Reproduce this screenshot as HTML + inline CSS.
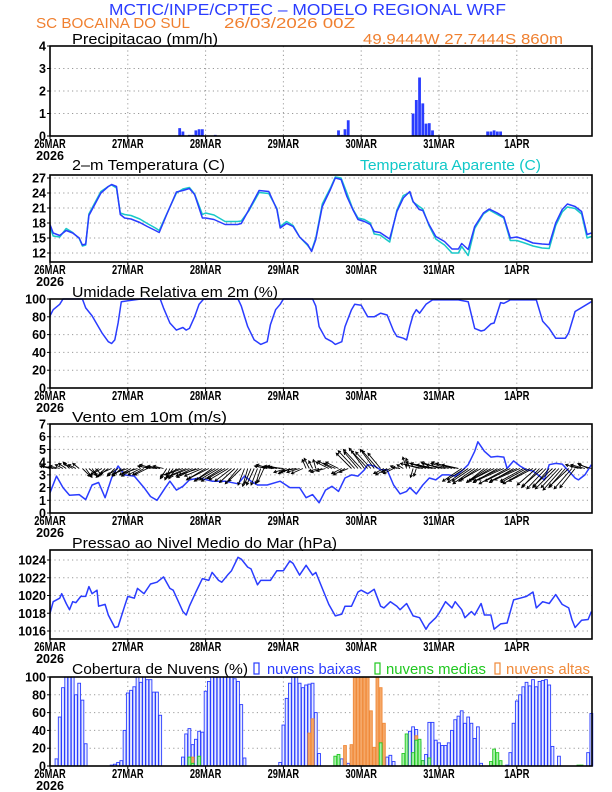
<!DOCTYPE html>
<html><head><meta charset="utf-8"><style>
html,body{margin:0;padding:0;background:#fff;}
svg{display:block;font-family:"Liberation Sans",sans-serif;}
</style></head><body>
<svg id="chart" width="612" height="792" viewBox="0 0 612 792"></svg>
<script>
// ---- data ----
const dayLabels = ["26MAR","27MAR","28MAR","29MAR","30MAR","31MAR","1APR"];
const precipHours = [17,18,25,26,40,41,43,44,45,46,47,51,57,60,62,85,86,89,90,91,92,112,113,114,115,116,117,118,135,136,137,138,139,145,150,155,160];
const precipVals  = [0.02,0.02,0.02,0.02,0.35,0.2,0.05,0.05,0.25,0.3,0.3,0.05,0.02,0.02,0.02,0.02,0.02,0.25,0.05,0.3,0.7,1.0,1.6,2.6,1.45,0.55,0.57,0.25,0.2,0.2,0.25,0.2,0.2,0.02,0.02,0.02,0.02];
const precipTicks = [0,1,2,3,4];

const tempHours = [0,1,3,5,7,9,10,11,12,15.7,18,19,20.5,21.7,23,25,27.7,30,32.5,33.7,36,39,41,43,44.6,47,48,50.6,54,57.8,59,61.4,64.5,67.5,70,71,73,75,77,79.5,80.7,82,84,86.5,88,89.8,91.6,93.4,95,97,98.8,100,101.8,104.8,107,109,111,112,113.9,115,116.9,119,121.7,124,126,127,129,131,133.7,135.5,138,140,142,144,146.4,149,151.8,154,156,158,159.6,162,164,165.7,167];
const tempVals = [17.7,16,15.5,16.5,16,15,13.6,13.8,19.5,24,25.3,25.7,25.3,19.7,19,18.8,18.1,17.3,16.5,16.1,19.7,24.2,24.5,24.9,23.7,19,19,18.7,17.7,17.7,17.9,20.7,24.5,24.3,20.7,17,17.9,17.3,15.2,13.7,12.3,14.7,21.3,24.7,27,26.7,23.3,20.7,18.7,18.3,17.7,16.3,16.1,14.8,20.3,23,24.3,22.3,20.7,20.5,17.7,15.3,14.3,12.8,12.8,13.9,12.7,17.3,20,20.8,20,19.2,15,15.2,14.7,14,13.8,13.7,18,20.7,21.8,21.3,20.3,15.7,16];
const apparentVals = [17.2,15.4,15.2,16.9,16.1,14.9,13.4,13.6,19.8,24.3,25.3,25.6,25,20,19.7,19.5,18.8,17.9,17,16.5,19.8,24,24.8,25.1,23.8,19.7,20,19.6,18.3,18.3,18.4,20.5,24.1,23.9,20.9,17.3,18.3,17.5,15.2,13.5,12.5,15,21.8,25,27.2,27,24,20.8,19,18.7,18,15.8,15.6,14.2,20.6,23.5,24.1,22.2,21.3,20.8,17.5,14.8,13.6,12,12,13.3,11.5,16.9,19.8,20.6,19.7,19,14.5,14.5,14,13.4,13,12.9,17.5,20.2,21.2,20.9,19.8,15,15.3];
const tempTicks = [12,15,18,21,24,27];

const rhHours = [0,1,3,4,10,11,13,16,18,19,20,21,22,26,28,34,35,37,39,41,42,43,44.6,46,47.4,58,59,61,63,65,67,68,69.6,71,72,81,82,83,85,87,88,90,91,93,94,96,98,100,102,104,106,107,109,110,111,112,113,114,116,118,122,126,129,131,133,134,136,137,139,140,142,150,152,154,156,159,160,162,167];
const rhVals = [81,88,94,100,100,90,81,62,52,50,54,73,97,99,100,100,90,73,65,68,65,67,80,94,100,100,92,69,54,49,52,71,88,94,100,100,92,69,56,52,49,52,69,88,94,93,80,80,84,82,64,58,56,54,69,82,88,84,94,99,99,99,97,67,64,65,72,73,96,95,99,99,75,67,56,56,62,86,97];
const rhTicks = [0,20,40,60,80,100];

const windHours = [0,2,4,6,9,11,13,15,17,19,21,23,26,29,31,33,35.6,37,39,41,43,46,50,54,58,60,62,64,67,71,74,77,79,81,83,85,87,89,91,93,95,97,98,100,102,104,106,108,110,111,113,115,117,119,121,123,125,127,129,131,132,134,136,138,140,141,143,145,147,149,151,152.5,154,156,158,160,162,163,165,167];
const windSpeed = [1.6,2.9,2,1.4,1.45,1.05,2.2,2.4,1.2,2.75,3.7,3,2.9,2,1.3,1,2,2.5,1.8,2.1,2.6,2.75,2.5,2.5,2.3,2.9,2.5,2.2,2.2,2.5,2,2,1.2,1.45,0.8,1.8,2.1,1.7,2.75,3,2.9,3.4,3.8,3.7,3.4,3.4,2.2,1.5,1.7,2,1.5,2.2,2.75,2.6,3,3,2.9,3.3,3.8,4.85,5.6,4.85,4.4,4.45,4.4,3.5,4.1,3.7,3.4,3.3,2.9,2.6,3.8,3.9,3.85,3.3,2.75,2.6,3,3.8];
const windU = [-0.8,-0.9,-0.7,-0.8,-0.6,-0.6,-0.5,-0.7,-0.6,-0.5,0.6,0.5,0.6,0.4,0.5,-0.8,-0.9,-0.7,-0.8,-0.9,-0.6,-0.8,-0.7,-1,-1.1,-0.9,-1,-1.2,-1,-0.9,-1,-1,-1.1,-0.9,-1,-0.8,-0.5,-0.4,-0.5,-0.6,-1.5,-1.4,-1.6,-1.5,-1.3,-1.5,-1.6,-1.4,-1.5,-1.6,-1.4,-1.5,-1.5,-1.6,-1.4,-1.5,-1.3,-1.2,-1,-1,-0.5,-0.4,-0.5,-0.6,-0.5,-0.4,-0.5,-1,-1.1,-0.9,-1,-1,-1.1,-1,-0.9,-1,-1.1,-1,-0.9,-0.3,-0.4,-0.3,-0.2,-0.8,-0.9,-0.7,-1,-1.1,-0.9,-1,-0.8,-0.9,-0.7,-1.2,-1.3,-1.1,-1.4,-1.2,-1.3,-1.2,-1.1,-1.2,-1,-0.8,-0.9,-0.7,-0.8,-0.5,-0.6,-0.5,-0.3,-0.3,-0.2,-0.2,-1.5,-1.4,-1.6,-1.5,-1.7,-1.5,-1.4,-1.6,-1.5,-1.4,-1.6,-1.5,-1.3,-1.5,-1.4,-1.6,-1.5,-1.7,-1.5,-1.6,-1.4,-1.5,-1.5,-2,-1.9,-2.1,-2,-2.2,-2,-1.9,-2.1,-2,-1.8,-2,-2.1,-1.9,-1.5,-1.4,-1.6,-1.5,-1.3,-1.5,-1.6,-1.4,-1.5,-1.3,-1.5,-1.4,-1.2,-1,-0.9,-1.1,-0.8,-1];
const windV = [0.2,0.2,0.1,0.2,0.3,0.4,0.5,0.4,0.3,0.4,-0.6,-0.7,-0.5,-0.6,-0.5,-0.6,-0.5,-0.7,-0.6,-0.4,-0.6,-0.5,-0.6,-0.5,-0.4,-0.5,-0.6,-0.4,-0.5,-0.5,-0.5,0.2,0.3,0.1,0.2,0.2,-0.8,-0.9,-0.7,-0.8,-0.6,-0.5,-0.7,-0.6,-0.6,-0.7,-0.5,-0.6,-0.9,-0.8,-1,-0.9,-0.9,-1,-0.8,-0.9,-1,-1.1,-1.2,-1,-1.3,-1.4,-1.2,-1.3,-1.3,-1.2,-1.1,0.2,0.3,0.1,0.2,0.2,0.1,-0.3,-0.4,-0.3,-0.2,-0.3,-0.4,0.7,0.8,0.6,0.7,-0.2,-0.3,-0.2,0.5,0.6,0.4,0.5,-0.4,-0.5,-0.3,1.2,1.4,1.3,1.5,1.6,1.4,1.3,1.5,1.4,1.2,-0.4,-0.5,-0.3,-0.4,0.2,0.1,0.3,0.9,0.8,-0.7,-0.6,0.4,0.3,0.5,0.4,0.4,0.3,0.5,0.4,0.3,0.4,0.5,0.4,0.3,-1,-0.9,-1.1,-1,-1.2,-1,-0.9,-1.1,-1,-0.9,-1,-1.1,-1,-0.9,-1.2,-1,-1.1,-1,-0.9,-1,-1.1,-1.2,-1,-1.3,-1.5,-1.4,-1.6,-1.5,-1.4,-1.6,-1.5,-1.7,-1.5,-1.4,-1.6,-1.5,0.3,0.2,0.3,0.4,0.3];
const windTicks = [0,1,2,3,4,5,6,7];

const presHours = [0,1,3,3.6,5,6,7,8,9.5,11,12,13,14.5,15,17,18,20,21,23,24,26,27,29,31,33,35,37,38,41,42,43,45,47,49,50,52,53,55,56,58,59,61,62,64,65,68,70,72,74,75,77,79,81,82,84,86,88,90,91,93,95,96,98,100,102,103,105,107,108,110,112,114,116,117,119,120,122,124,125,127,128,130,131,133,134,136,137,139,141,143,145,147,149,150,152,154,156,158,160,161,162,164,166,167];
const presVals = [1018,1019.3,1019.7,1020.2,1019.1,1018.4,1019.3,1019.2,1019.9,1019.9,1021,1020.2,1020.6,1018.8,1019,1017.8,1016.4,1016.5,1018.8,1019.9,1019.7,1020.8,1020.2,1021.3,1021.5,1022.1,1020.8,1020.6,1018.2,1017.8,1018.8,1020.4,1021.9,1021.7,1022.6,1021.7,1021.5,1022.4,1022.8,1024.3,1024.1,1023.2,1023,1021.2,1021.7,1021.7,1022.8,1022.8,1023.9,1023.6,1022.3,1023.4,1022.3,1022.6,1020.8,1019,1017.7,1017.9,1018.8,1018.8,1020.4,1020.6,1020.2,1020.7,1018.8,1018.6,1019.3,1018.8,1018.4,1019.1,1017.7,1017.5,1016.2,1016.8,1017.5,1018,1019.3,1018.6,1019.3,1018.4,1017.5,1018.2,1017.8,1019.1,1017.8,1017.8,1016.2,1016.8,1016.9,1019.5,1019.7,1019.9,1020.4,1018.6,1019.3,1019.1,1020.1,1019,1018.6,1017.3,1016.4,1017.2,1017.3,1018.2];
const presTicks = [1016,1018,1020,1022,1024];

const lowHours = [2,3,4,5,6,7,8,9,10,11,19,20,21,22,23,24,25,26,27,28,29,30,31,32,33,34,41,42,43,44,45,46,47,48,49,50,51,52,53,54,55,56,57,58,59,60,71,72,73,74,75,76,77,78,79,80,81,82,83,89,90,91,92,102,103,104,105,106,110,111,112,113,114,115,116,117,118,119,120,121,122,123,124,125,126,127,128,129,130,131,132,133,141,142,143,144,145,146,147,148,149,150,151,152,153,154,155,157,166,167];
const lowVals = [8,55,88,100,100,100,80,93,74,25,1,2,4,6,40,82,85,89,100,94,100,97,97,83,83,57,10,36,42,24,30,39,38,84,95,100,100,100,100,100,100,100,98,95,69,9,4,46,76,93,100,100,93,88,91,92,93,60,14,5,8,5,3,4,9,10,12,5,9,39,44,41,27,6,13,49,49,29,26,23,23,26,40,52,56,62,48,55,48,31,44,3,1,15,48,73,80,89,94,90,97,89,95,96,97,91,22,11,15,59];
const midHours = [43,44,46,88,89,102,109,110,112,113,114,115,117,136,137,138,139,163,164];
const midVals = [10,3,11,11,13,26,14,36,15,29,30,6,9,5,19,15,6,1,1];
const highHours = [44,80,81,91,93,94,95,96,97,98,99,100,101,102,103,113];
const highVals = [10,37,53,23,24,100,100,100,100,100,62,21,100,88,48,34];
const cloudTicks = [0,20,40,60,80,100];

// ---- layout ----
const NS = "http://www.w3.org/2000/svg";
const svg = document.getElementById("chart");
const X0 = 50, PXH = 77.8/24, XR = 592;
function xh(h){ return X0 + h*PXH; }
function el(tag, attrs, parent){ const e=document.createElementNS(NS,tag); for(const k in attrs) e.setAttribute(k,attrs[k]); (parent||svg).appendChild(e); return e; }
function txt(s, attrs, parent){ const t=el("text",attrs,parent); t.textContent=s; return t; }
function mkScale(vTop, yTop, vBot, yBot){ return v => yTop + (v - vTop)*(yBot-yTop)/(vBot-vTop); }

// header
let t;
t = txt("MCTIC/INPE/CPTEC \u2013 MODELO REGIONAL WRF",{x:109,y:15,"font-size":16,fill:"#2a3cff",textLength:397,lengthAdjust:"spacingAndGlyphs"});


t = txt("SC BOCAINA DO SUL",{x:36,y:28,"font-size":15,fill:"#f08030",textLength:154,lengthAdjust:"spacingAndGlyphs"});


t = txt("26/03/2026 00Z",{x:224,y:28,"font-size":15,fill:"#f08030",textLength:131,lengthAdjust:"spacingAndGlyphs"});


t = txt("49.9444W 27.7444S 860m",{x:363,y:44,"font-size":15,fill:"#f08030",textLength:200,lengthAdjust:"spacingAndGlyphs"});



function panel(name, title, titleY, titleW, yTop, yBot, ys, ticks, fmt){
  const g = el("g",{});
  
  
  ticks.forEach(v=>{
    const y = ys(v);
    const gl = el("line",{x1:X0,x2:XR,y1:y,y2:y,stroke:"#999","stroke-width":1,"stroke-dasharray":"1.2,3.2"},g);
    
    
    const tl = txt(fmt(v),{x:X0-4,y:y+4.5,"font-size":12.5,"font-weight":"bold","text-anchor":"end",fill:"#000"},g);
    
    
    const tk = el("line",{x1:X0-3,x2:X0,y1:y,y2:y,stroke:"#000"},g);
    
    
  });
  dayLabels.forEach((d,i)=>{
    const x = xh(i*24);
    if(i>0){
      const gl = el("line",{x1:x,x2:x,y1:yTop,y2:yBot,stroke:"#999","stroke-width":1,"stroke-dasharray":"1.2,3.2"},g);
      
      
    }
    const tk = el("line",{x1:x,x2:x,y1:yBot,y2:yBot+3,stroke:"#000"},g);
    
    
    const dl = txt(d,{x:x,y:yBot+12,"font-size":12.5,"font-weight":"bold","text-anchor":"middle",fill:"#000",textLength:d.length*6.3,lengthAdjust:"spacingAndGlyphs"},g);
    
    
  });
  const yr = txt("2026",{x:X0,y:yBot+24,"font-size":12.5,"font-weight":"bold","text-anchor":"middle",fill:"#000"},g);
  
  
  const tt = txt(title,{x:72,y:titleY,"font-size":15,fill:"#000",textLength:titleW,lengthAdjust:"spacingAndGlyphs"},g);
  
  
  const plot = el("g",{},g);
  
  
  const frame = el("rect",{x:X0,y:yTop,width:XR-X0,height:yBot-yTop,fill:"none",stroke:"#000","stroke-width":1.6},g);
  
  
  return plot;
}
function line(parent, hours, vals, ys, color, name){
  const d = hours.map((h,i)=>(i?"L":"M")+xh(h).toFixed(1)+","+ys(vals[i]).toFixed(1)).join("");
  const p = el("path",{d:d,fill:"none",stroke:color,"stroke-width":1.5,"stroke-linejoin":"round"},parent);
  
  
  return p;
}

// Panel 1: precipitation
const ysP = mkScale(4,46,0,136);
const p1 = panel("precipitation","Precipitacao (mm/h)",44,146,46,136,ysP,precipTicks,v=>String(v));
precipHours.forEach((h,i)=>{
  const y = ysP(precipVals[i]);
  const r = el("rect",{x:xh(h)-1.4,y:y,width:2.8,height:Math.max(136-y,0.8),fill:"#2a3cff"},p1);
  
  
});

// Panel 2: temperature
const ysT = mkScale(27,178,12,253);
const p2 = panel("temperature","2\u2013m Temperatura (C)",170,153,175,262,ysT,tempTicks,v=>String(v));
t = txt("Temperatura Aparente (C)",{x:360,y:170,"font-size":15,fill:"#10c8c8",textLength:181,lengthAdjust:"spacingAndGlyphs"});


line(p2,tempHours,apparentVals,ysT,"#18c8c8","apparent-temperature-line");
line(p2,tempHours,tempVals,ysT,"#2a3cff","temperature-line");

// Panel 3: humidity
const ysH = mkScale(100,299,0,388);
const p3 = panel("humidity","Umidade Relativa em 2m (%)",297,206,299,388,ysH,rhTicks,v=>String(v));
line(p3,rhHours,rhVals,ysH,"#2a3cff","humidity-line");

// Panel 4: wind
const ysW = mkScale(7,424,0,513);
const p4 = panel("wind","Vento em 10m (m/s)",422,155,424,513,ysW,windTicks,v=>String(v));
line(p4,windHours,windSpeed,ysW,"#2a3cff","wind-speed-line");
const wscale = (513-424)/7;
windU.forEach((u,h)=>{
  const v = windV[h];
  const x1 = xh(h), y1 = ysW(3.5);
  const x2 = x1 + u*wscale, y2 = y1 - v*wscale;
  const ang = Math.atan2(y2-y1,x2-x1);
  const hl = 3;
  const d = `M${x1.toFixed(1)},${y1.toFixed(1)}L${x2.toFixed(1)},${y2.toFixed(1)}M${(x2-hl*Math.cos(ang-0.5)).toFixed(1)},${(y2-hl*Math.sin(ang-0.5)).toFixed(1)}L${x2.toFixed(1)},${y2.toFixed(1)}L${(x2-hl*Math.cos(ang+0.5)).toFixed(1)},${(y2-hl*Math.sin(ang+0.5)).toFixed(1)}`;
  const a = el("path",{d:d,stroke:"#000","stroke-width":0.9,fill:"none"},p4);
  
  
});

// Panel 5: pressure
const ysPr = mkScale(1024,560,1016,631);
const p5 = panel("pressure","Pressao ao Nivel Medio do Mar (hPa)",548,265,550,639,ysPr,presTicks,v=>String(v));
line(p5,presHours,presVals,ysPr,"#2a3cff","pressure-line");

// Panel 6: clouds
const ysC = mkScale(100,677,0,766);
const p6 = panel("clouds","Cobertura de Nuvens (%)",674,176,677,766,ysC,cloudTicks,v=>String(v));
function bars(hours, vals, stroke, fill, name){
  hours.forEach((h,i)=>{
    const y = ysC(vals[i]);
    const r = el("rect",{x:xh(h)-1.4,y:y,width:2.8,height:Math.max(766-y,0.5),fill:fill,stroke:stroke,"stroke-width":0.9},p6);
    
    
  });
}
bars(lowHours,lowVals,"#2a3cff","#e8ecff","low-cloud-bar");
bars(highHours,highVals,"#f08a3a","#f5a868","high-cloud-bar");
bars(midHours,midVals,"#20c820","#a8f0a8","mid-cloud-bar");
const legend = [["nuvens baixas","#2a3cff",254,267,94],["nuvens medias","#20c820",375,386,100],["nuvens altas","#f08a3a",495,506,84]];
legend.forEach(l=>{
  const b = el("rect",{x:l[2],y:663,width:5,height:11,fill:"none",stroke:l[1],"stroke-width":1.2});
  
  
  const lt = txt(l[0],{x:l[3],y:674,"font-size":15,fill:l[1],textLength:l[4],lengthAdjust:"spacingAndGlyphs"});
  
  
});
</script>
</body></html>
